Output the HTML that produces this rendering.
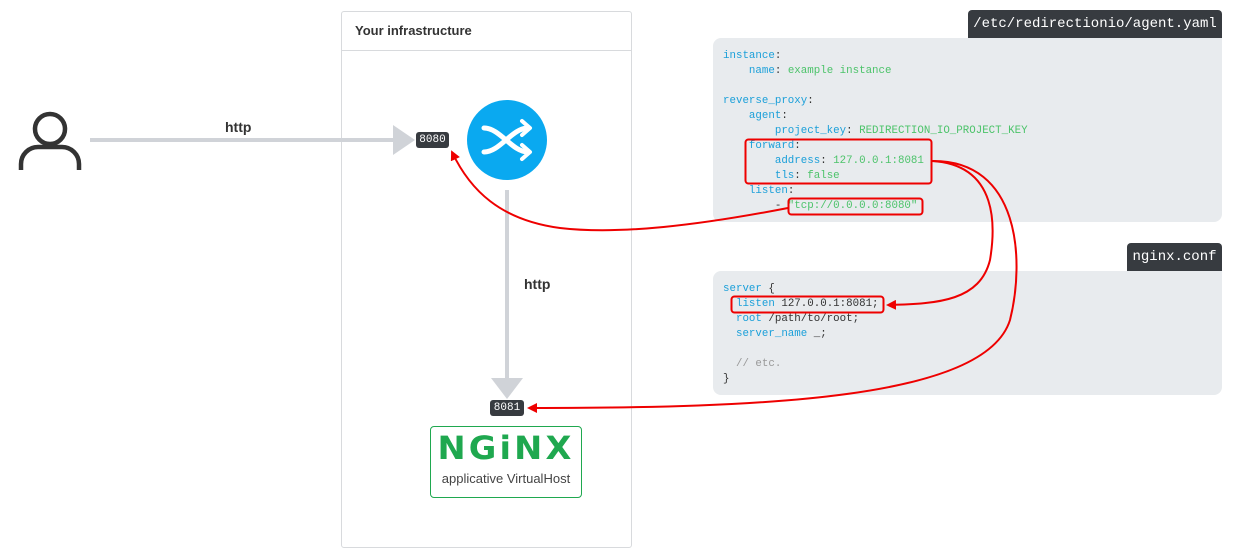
<!DOCTYPE html>
<html><head><meta charset="utf-8"><style>
body{margin:0;width:1233px;height:559px;background:#fff;position:relative;overflow:hidden;font-family:"Liberation Sans",sans-serif}
.abs{position:absolute}
.code{font-family:"Liberation Mono",monospace;font-size:10.8px;line-height:15px;color:#333;white-space:pre}
.k{color:#1a9fd9}.v{color:#4cc36a}.c{color:#999}
.tab{background:#373b40;color:#fff;font-family:"Liberation Mono",monospace;font-size:14px;border-radius:4px 4px 0 0;text-align:center;line-height:28px}
.badge{background:#373b40;color:#fff;font-family:"Liberation Mono",monospace;font-size:11px;border-radius:3px;text-align:center;line-height:16px}
</style></head><body>
<div class="abs" style="left:341px;top:11px;width:289px;height:535px;border:1px solid #d8dadd;border-radius:3px"></div>
<div class="abs" style="left:342px;top:50px;width:289px;border-top:1px solid #d8dadd"></div>
<div class="abs" style="left:355px;top:23px;font-size:13px;font-weight:bold;color:#333">Your infrastructure</div>

<div class="abs tab" style="left:968px;top:10px;width:254px">/etc/redirectionio/agent.yaml</div>
<div class="abs" style="left:713px;top:38px;width:509px;height:184px;background:#e8ebee;border-radius:8px 0 8px 8px"></div>
<div class="abs code" style="left:723px;top:49px"><span class="k">instance</span>:
    <span class="k">name</span>: <span class="v">example instance</span>

<span class="k">reverse_proxy</span>:
    <span class="k">agent</span>:
        <span class="k">project_key</span>: <span class="v">REDIRECTION_IO_PROJECT_KEY</span>
    <span class="k">forward</span>:
        <span class="k">address</span>: <span class="v">127.0.0.1:8081</span>
        <span class="k">tls</span>: <span class="v">false</span>
    <span class="k">listen</span>:
        - <span class="v">"tcp://0.0.0.0:8080"</span></div>

<div class="abs tab" style="left:1127px;top:243px;width:95px">nginx.conf</div>
<div class="abs" style="left:713px;top:271px;width:509px;height:124px;background:#e8ebee;border-radius:8px 0 8px 8px"></div>
<div class="abs code" style="left:723px;top:282px"><span class="k">server</span> {
  <span class="k">listen</span> 127.0.0.1:8081;
  <span class="k">root</span> /path/to/root;
  <span class="k">server_name</span> _;

  <span class="c">// etc.</span>
}</div>

<div class="abs badge" style="left:416px;top:132px;width:33px">8080</div>
<div class="abs badge" style="left:490px;top:400px;width:34px">8081</div>

<div class="abs" style="left:430px;top:426px;width:150px;height:70px;border:1px solid #1fa84f;border-radius:4px;text-align:center">
<div style="font-size:32px;font-weight:900;color:#1fa84f;letter-spacing:3px;margin-top:5px;line-height:32px;font-family:'DejaVu Sans',sans-serif;transform:scaleX(1.05)">NGiNX</div>
<div style="font-size:13px;color:#444;margin-top:7px">applicative VirtualHost</div></div>

<div class="abs" style="left:225px;top:119px;font-size:14px;font-weight:bold;color:#333">http</div>
<div class="abs" style="left:524px;top:276px;font-size:14px;font-weight:bold;color:#333">http</div>

<svg class="abs" style="left:0;top:0" width="1233" height="559">
<defs><marker id="ar" markerWidth="10" markerHeight="10" refX="8" refY="5" orient="auto" markerUnits="userSpaceOnUse"><path d="M0,0L10,5L0,10z" fill="#e00"/></marker></defs>
<circle cx="50" cy="129" r="15" fill="none" stroke="#333" stroke-width="4.5"/>
<path d="M21,170 v-6 a17,17 0 0 1 17,-17 h24 a17,17 0 0 1 17,17 v6" fill="none" stroke="#333" stroke-width="4.5"/>
<line x1="90" y1="140" x2="398" y2="140" stroke="#d0d3d8" stroke-width="4"/>
<path d="M393,125 L415,140 L393,155z" fill="#d0d3d8"/>
<line x1="507" y1="190" x2="507" y2="380" stroke="#d0d3d8" stroke-width="4"/>
<path d="M491,378 L507,399 L523,378z" fill="#d0d3d8"/>
<circle cx="507" cy="140" r="40" fill="#0aa9f0"/>
<path d="M484,128 C500,128 512,152 528,152 M484,152 C500,152 512,128 528,128" fill="none" stroke="#fff" stroke-width="5" stroke-linecap="round"/>
<path d="M522,121 L530,128 L522,135 M522,145 L530,152 L522,159" fill="none" stroke="#fff" stroke-width="4" stroke-linecap="round" stroke-linejoin="round"/>
<rect x="745.5" y="139.5" width="186" height="44" rx="3" fill="none" stroke="#e00" stroke-width="2"/>
<rect x="788.5" y="198.5" width="134" height="16" rx="3" fill="none" stroke="#e00" stroke-width="2"/>
<rect x="731.5" y="296.5" width="152" height="16" rx="3" fill="none" stroke="#e00" stroke-width="2"/>
<path d="M788,208 C700,225 620,235 560,228 C500,220 470,190 452,152" fill="none" stroke="#e00" stroke-width="2" marker-end="url(#ar)"/>
<path d="M932,161 C1000,165 995,230 990,260 C980,300 940,304 888,305" fill="none" stroke="#e00" stroke-width="2" marker-end="url(#ar)"/>
<path d="M932,161 C1020,160 1025,260 1010,320 C985,400 760,408 529,408" fill="none" stroke="#e00" stroke-width="2" marker-end="url(#ar)"/>
</svg>
</body></html>
